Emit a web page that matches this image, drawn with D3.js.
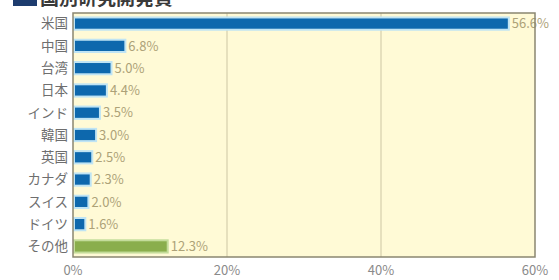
<!DOCTYPE html>
<html>
<head>
<meta charset="utf-8">
<script src="https://cdn.jsdelivr.net/npm/d3@7"></script>
<style>
  body { margin: 0; background: #fff; }
  text { font-family: "Noto Sans CJK JP", "Noto Sans", sans-serif; }
</style>
</head>
<body>
<script>
const countries = ["米国", "中国", "台湾", "日本", "インド", "韓国", "英国", "カナダ", "スイス", "ドイツ", "その他"];
const shares = [56.6, 6.8, 5.0, 4.4, 3.5, 3.0, 2.5, 2.3, 2.0, 1.6, 12.3];
const xTicks = [0, 20, 40, 60];
const title = "国別研究開発費";

const w = 559, h = 280;
const padL = 73, padR = 535, padT = 13, padB = 257;

const svg = d3.select("body").append("svg")
    .attr("width", w)
    .attr("height", h);

const x = d3.scaleLinear().domain([0, 60]).range([padL, padR]);
const y = d3.scaleBand().domain(countries).range([padT, padB]).paddingInner(0.45).paddingOuter(0.2);

// title (cut off at the top edge)
svg.append("rect")
    .attr("x", 13).attr("y", -10)
    .attr("width", 24).attr("height", 16)
    .style("fill", "#1d3c6e");
svg.append("text")
    .attr("x", 40).attr("y", 5)
    .style("font-size", "19px")
    .style("font-weight", "bold")
    .style("fill", "#3a3a3a")
    .text(title);

// plot background
svg.append("rect")
    .attr("x", padL).attr("y", padT)
    .attr("width", padR - padL).attr("height", padB - padT)
    .style("fill", "#fffad6");

// grid
svg.selectAll(".grid")
    .data(xTicks.slice(1, -1))
    .enter()
    .append("line")
    .attr("x1", d => x(d)).attr("x2", d => x(d))
    .attr("y1", padT).attr("y2", padB)
    .style("stroke", "#cdc6a4")
    .style("stroke-width", 1);

// bars
svg.selectAll(".bar")
    .data(countries)
    .enter()
    .append("rect")
    .attr("x", x(0) + 1)
    .attr("y", d => y(d))
    .attr("width", (d, i) => x(shares[i]) - x(0) - 1)
    .attr("height", y.bandwidth())
    .style("fill", (d, i) => i == countries.length - 1 ? "#8aae4c" : "#0d68ad")
    .style("stroke", (d, i) => i == countries.length - 1 ? "#c4dc9a" : "#bfe4f4")
    .style("stroke-width", 2);

// value labels
svg.selectAll(".val")
    .data(countries)
    .enter()
    .append("text")
    .attr("x", (d, i) => x(shares[i]) + 3)
    .attr("y", d => y(d) + y.bandwidth() / 2)
    .attr("dy", "0.36em")
    .style("font-size", "13px")
    .style("fill", "#ada278")
    .text((d, i) => shares[i].toFixed(1) + "%");

// plot frame
svg.append("rect")
    .attr("x", padL).attr("y", padT)
    .attr("width", padR - padL).attr("height", padB - padT)
    .style("fill", "none")
    .style("stroke", "#8a8670")
    .style("stroke-width", 1.5);

// category labels
svg.selectAll(".cat")
    .data(countries)
    .enter()
    .append("text")
    .attr("x", padL - 5)
    .attr("y", d => y(d) + y.bandwidth() / 2)
    .attr("dy", "0.36em")
    .style("text-anchor", "end")
    .style("font-size", "13.5px")
    .style("fill", "#6e6e6e")
    .text(d => d);

// x tick labels
svg.selectAll(".tick")
    .data(xTicks)
    .enter()
    .append("text")
    .attr("x", d => x(d))
    .attr("y", 275)
    .style("text-anchor", "middle")
    .style("font-size", "13px")
    .style("fill", "#8a8a8a")
    .text(d => d + "%");
</script>
</body>
</html>
